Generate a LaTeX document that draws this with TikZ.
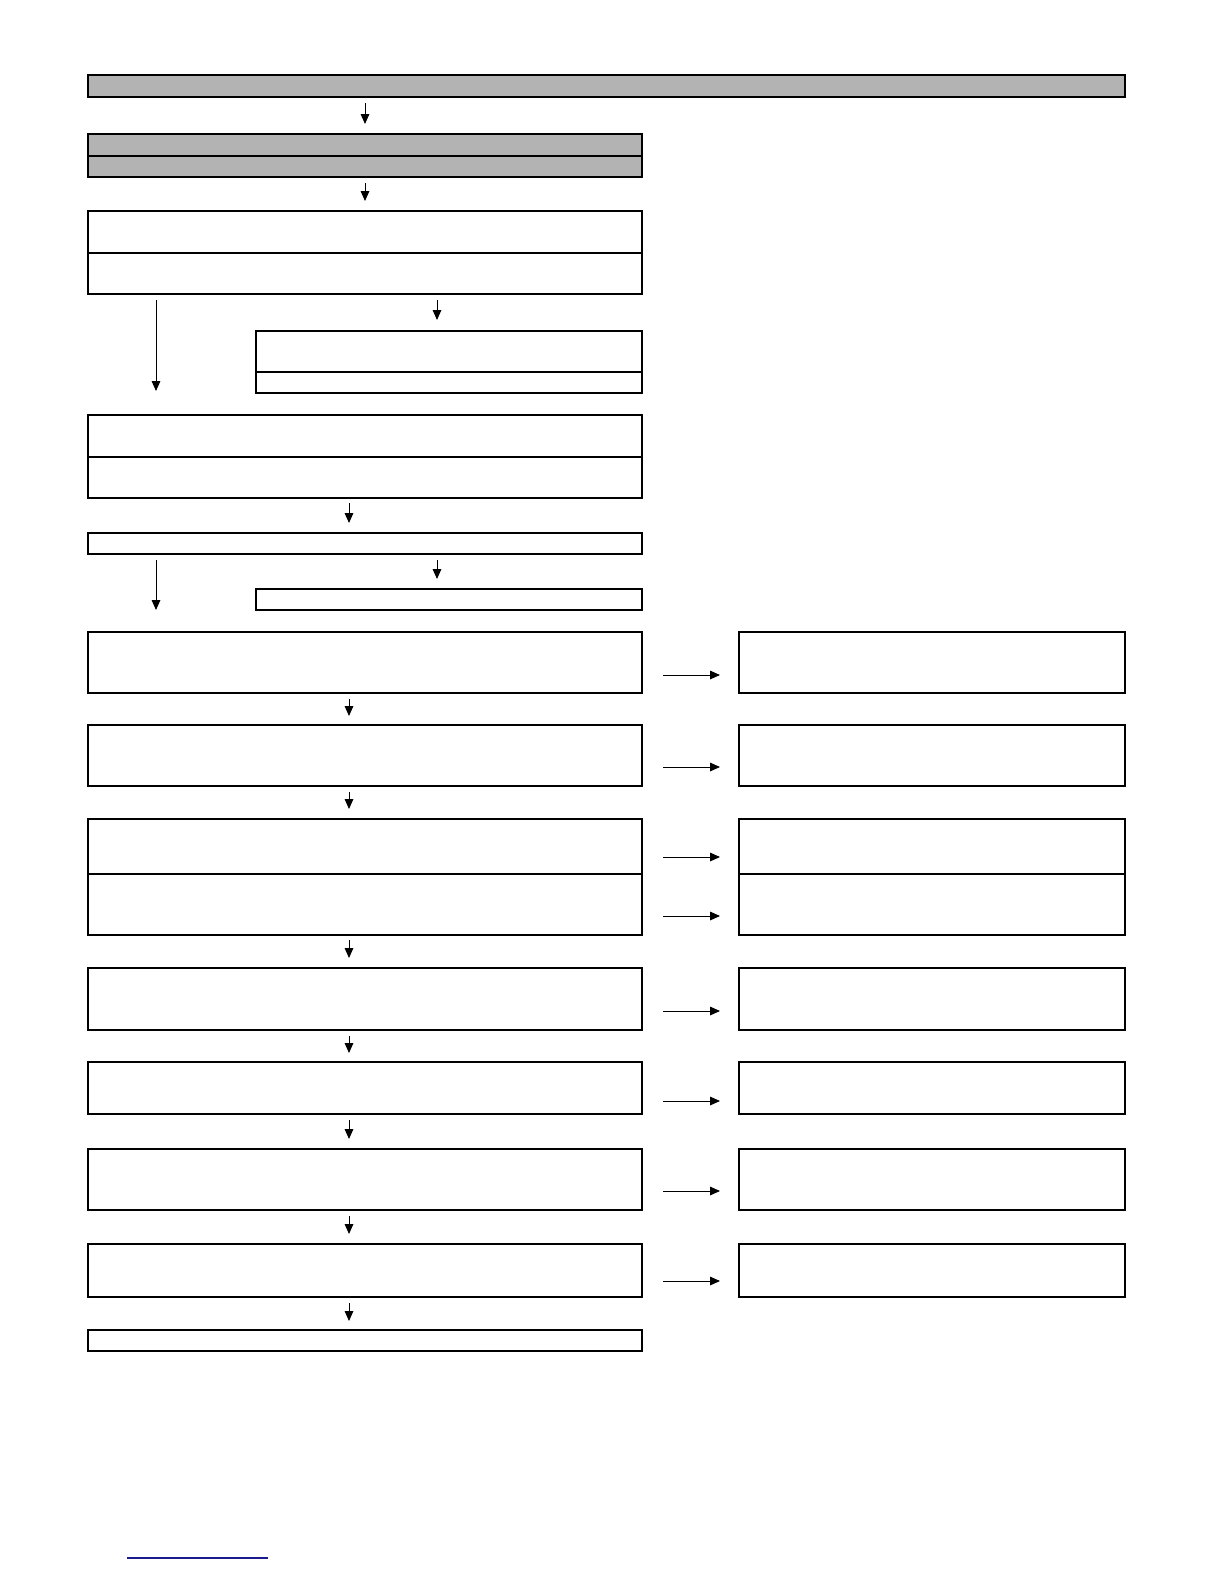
\documentclass[tikz,border=0pt]{standalone}
\usetikzlibrary{fit,arrows.meta}
\definecolor{boxgray}{HTML}{B3B3B3}
\definecolor{linkblue}{HTML}{1A1A8C}
\begin{document}
\begin{tikzpicture}[x=0.6pt,y=-0.6pt,
  box/.style={draw=black,line width=0.75pt,inner sep=0pt,outer sep=0pt,fill=white},
  graybox/.style={box,fill=boxgray},
  arr/.style={draw=black,line width=0.6pt,-{Triangle[length=6pt,width=5.2pt]}},
  divider/.style={draw=black,line width=0.75pt}]
\useasboundingbox (0,0) rectangle (1224,1584);
% corner coordinates
\foreach \n/\xa/\ya/\xb/\yb in {
  t/88/75/1125/97, g/88/134/642/177, a/88/211/642/294, b/256/331/642/393,
  c/88/415/642/498, d/88/533/642/554, e/256/589/642/610,
  f/88/632/642/693, fr/739/632/1125/693,
  h/88/725/642/786, hr/739/725/1125/786,
  i/88/819/642/935, ir/739/819/1125/935,
  j/88/968/642/1030, jr/739/968/1125/1030,
  k/88/1062/642/1114, kr/739/1062/1125/1114,
  l/88/1149/642/1210, lr/739/1149/1125/1210,
  m/88/1244/642/1297, mr/739/1244/1125/1297,
  n/88/1330/642/1351}{
  \coordinate (\n1) at (\xa,\ya);
  \coordinate (\n2) at (\xb,\yb);
}
\node[graybox,fit=(t1)(t2)] (top) {};
\node[graybox,fit=(g1)(g2)] (gb) {};
\node[box,fit=(a1)(a2)] (A) {};
\node[box,fit=(b1)(b2)] (B) {};
\node[box,fit=(c1)(c2)] (C) {};
\node[box,fit=(d1)(d2)] (D) {};
\node[box,fit=(e1)(e2)] (E) {};
\node[box,fit=(f1)(f2)] (F) {};
\node[box,fit=(fr1)(fr2)] (FR) {};
\node[box,fit=(h1)(h2)] (H) {};
\node[box,fit=(hr1)(hr2)] (HR) {};
\node[box,fit=(i1)(i2)] (I) {};
\node[box,fit=(ir1)(ir2)] (IR) {};
\node[box,fit=(j1)(j2)] (J) {};
\node[box,fit=(jr1)(jr2)] (JR) {};
\node[box,fit=(k1)(k2)] (K) {};
\node[box,fit=(kr1)(kr2)] (KR) {};
\node[box,fit=(l1)(l2)] (L) {};
\node[box,fit=(lr1)(lr2)] (LR) {};
\node[box,fit=(m1)(m2)] (M) {};
\node[box,fit=(mr1)(mr2)] (MR) {};
\node[box,fit=(n1)(n2)] (N) {};
% dividers
\draw[divider] (88,156) -- (642,156);
\draw[divider] (88,253) -- (642,253);
\draw[divider] (256,372) -- (642,372);
\draw[divider] (88,457) -- (642,457);
\draw[divider] (88,874) -- (642,874);
\draw[divider] (739,874) -- (1125,874);
% vertical arrows
\foreach \x/\ya/\yb in {365/103/124, 365/183/201, 437/300/320, 156/300/391,
  349/503/523, 437/560/579, 156/560/610, 349/699/716, 349/792/809,
  349/940/958, 349/1036/1053, 349/1120/1139, 349/1216/1234, 349/1303/1321}{
  \draw[arr] (\x,\ya) -- (\x,\yb);
}
% horizontal arrows
\foreach \y in {675,767,857,916,1011,1101,1191,1281}{
  \draw[arr] (663,\y) -- (720,\y);
}
% blue line
\draw[linkblue,line width=0.8pt] (127,1558) -- (268,1558);
\end{tikzpicture}
\end{document}
